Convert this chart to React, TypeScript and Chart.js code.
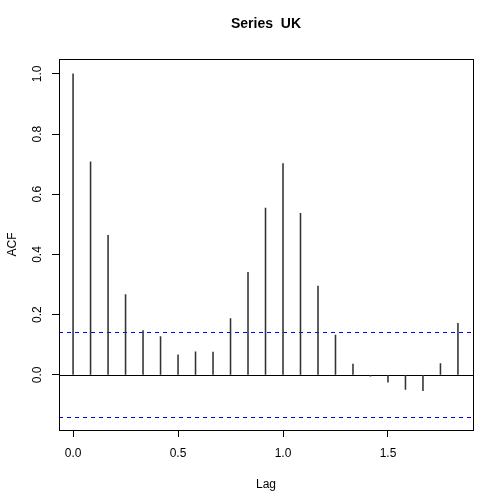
import React, { useEffect, useRef } from 'react';
import Chart from 'chart.js/auto';

const lags = [
  0, 0.0833, 0.1667, 0.25, 0.3333, 0.4167, 0.5, 0.5833, 0.6667, 0.75, 0.8333, 0.9167,
  1.0, 1.0833, 1.1667, 1.25, 1.3333, 1.4167, 1.5, 1.5833, 1.6667, 1.75, 1.8333,
];
const acf = [
  1.0, 0.708, 0.464, 0.267, 0.147, 0.127, 0.067, 0.077, 0.076, 0.187, 0.341, 0.554,
  0.702, 0.537, 0.295, 0.132, 0.036, -0.004, -0.024, -0.048, -0.052, 0.038, 0.171,
];
const ciLimit = 0.141;
const xTicks = [0, 0.5, 1.0, 1.5];
const yTicks = [0, 0.2, 0.4, 0.6, 0.8, 1.0];

const FONT = '"Liberation Sans", Arial, Helvetica, sans-serif';

// box around the plot + reference lines at 0 and +/- ci
const rPlot = {
  id: 'rPlot',
  beforeDatasetsDraw(chart: any) {
    const { ctx, chartArea: a, scales } = chart;
    const y = scales.y;
    ctx.save();
    ctx.beginPath();
    ctx.rect(a.left, a.top, a.right - a.left, a.bottom - a.top);
    ctx.clip();
    const hline = (v: number, color: string, dash: number[]) => {
      const py = Math.round(y.getPixelForValue(v)) + 0.5;
      ctx.beginPath();
      ctx.setLineDash(dash);
      ctx.strokeStyle = color;
      ctx.lineWidth = 1;
      ctx.moveTo(a.left, py);
      ctx.lineTo(a.right, py);
      ctx.stroke();
    };
    hline(0, '#000', []);
    hline(ciLimit, '#0000ff', [4, 4]);
    hline(-ciLimit, '#0000ff', [4, 4]);
    ctx.restore();
  },
  afterDraw(chart: any) {
    const { ctx, chartArea: a } = chart;
    ctx.save();
    ctx.strokeStyle = '#000';
    ctx.lineWidth = 1;
    ctx.setLineDash([]);
    ctx.strokeRect(Math.round(a.left) + 0.5, Math.round(a.top) + 0.5,
      Math.round(a.right - a.left), Math.round(a.bottom - a.top));
    ctx.restore();
  },
};

const App: React.FC = () => {
  const chartRef = useRef<HTMLCanvasElement>(null);

  useEffect(() => {
    if (!chartRef.current) return;
    const ctx = chartRef.current.getContext('2d');
    if (!ctx) return;
    const chart = new Chart(ctx, {
      type: 'bar',
      data: {
        datasets: [{
          data: lags.map((l, i) => ({ x: l, y: acf[i] })),
          backgroundColor: '#333',
          barThickness: 0.9,
        }],
      },
      options: {
        animation: false,
        responsive: false,
        layout: { padding: { left: 0, right: 31, top: 0, bottom: 0 } },
        plugins: {
          legend: { display: false },
          tooltip: { enabled: false },
          title: {
            display: true,
            text: 'Series  UK',
            fullSize: false,
            color: '#000',
            font: { family: FONT, size: 14, weight: 'bold' },
            padding: { top: 16, bottom: 26 },
          },
        },
        scales: {
          x: {
            type: 'linear',
            min: -0.067,
            max: 1.905,
            offset: false,
            afterFit(scale: any) { scale.height = 74; },
            afterBuildTicks(scale: any) { scale.ticks = xTicks.map((v) => ({ value: v })); },
            border: { display: false },
            grid: { drawOnChartArea: false, offset: false, tickLength: 7, color: '#000' },
            ticks: {
              color: '#000',
              padding: 9,
              maxRotation: 0,
              font: { family: FONT, size: 12 },
              callback: (v: any) => Number(v).toFixed(1),
            },
            title: {
              display: true,
              text: 'Lag',
              color: '#000',
              font: { family: FONT, size: 12 },
              padding: { top: 0, bottom: 12 },
            },
          },
          y: {
            type: 'linear',
            min: -0.183,
            max: 1.05,
            afterFit(scale: any) { scale.width = 59; },
            afterBuildTicks(scale: any) { scale.ticks = yTicks.map((v) => ({ value: v })); },
            border: { display: false },
            grid: { drawOnChartArea: false, tickLength: 7, color: '#000' },
            ticks: {
              color: '#000',
              padding: 6,
              minRotation: 90,
              maxRotation: 90,
              crossAlign: 'center',
              font: { family: FONT, size: 12 },
              callback: (v: any) => Number(v).toFixed(1),
            },
            title: {
              display: true,
              text: 'ACF',
              color: '#000',
              font: { family: FONT, size: 12 },
              padding: { top: 5, bottom: 0 },
            },
          },
        },
      },
      plugins: [rPlot],
    });
    return () => {
      chart.destroy();
    };
  }, []);

  return (
    <div style={{ position: 'absolute', left: 0, top: 0, width: 504, height: 504 }}>
      <canvas ref={chartRef} width="504" height="504"></canvas>
    </div>
  );
};

export default App;
